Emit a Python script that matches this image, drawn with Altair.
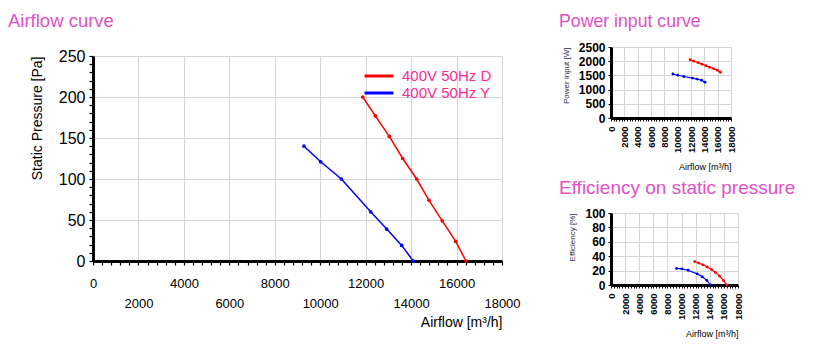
import altair as alt
import pandas as pd

FONT = "Liberation Sans"
TITLE_COLOR = "#e250c8"

series = ["400V 50Hz D", "400V 50Hz Y"]
colors = ["#ff0000", "#0000ff"]

# 400V 50Hz D
flow_D = [11870, 12425, 13040, 13630, 14245, 14790, 15370, 15960, 16415]
press_D = [200, 177, 152, 125, 100, 74, 49, 24, 0]
power_D = [2050, 2000, 1950, 1895, 1840, 1790, 1740, 1680, 1610]
eff_D = [32.5, 30.5, 28.0, 25.0, 21.5, 17.5, 12.5, 6.0, 0]

# 400V 50Hz Y
flow_Y = [9285, 10020, 10930, 12220, 12925, 13585, 14095]
press_Y = [140, 121, 100, 60, 39, 19, 0]
power_Y = [1550, 1505, 1460, 1405, 1370, 1330, 1260]
eff_Y = [23.0, 22.5, 20.5, 15.5, 11.5, 6.5, 0]

rows = []
for f, p, w, e in zip(flow_D, press_D, power_D, eff_D):
    rows.append({"series": series[0], "flow": f, "press": p, "power": w, "eff": e})
for f, p, w, e in zip(flow_Y, press_Y, power_Y, eff_Y):
    rows.append({"series": series[1], "flow": f, "press": p, "power": w, "eff": e})
df = pd.DataFrame(rows)

GRID = "#d4d4d4"


def x_axis_main():
    return alt.Axis(
        values=list(range(0, 18001, 400)),
        format="d",
        labelExpr="datum.value % 4000 == 0 ? datum.label : (datum.value % 2000 == 0 ? ['', datum.label] : '')",
        labelLineHeight=20,
        labelFlush=False,
        labelOverlap=False,
        labelFontSize=13,
        labelColor="black",
        labelPadding=12,
        tickSize=4,
        tickColor="black",
        tickWidth=1.2,
        domainColor="black",
        domainWidth=3,
        gridColor={"condition": {"test": "datum.value % 2000 == 0", "value": GRID}, "value": "transparent"},
        title="Airflow [m³/h]",
        titleFontSize=14,
        titleFontWeight="normal",
        titleColor="black",
        titleAnchor="end",
        titlePadding=5,
    )


main = alt.Chart(df).mark_line(
    strokeWidth=1.5,
    point=alt.OverlayMarkDef(filled=True, size=14),
).encode(
    x=alt.X("flow:Q", scale=alt.Scale(domain=[0, 18000], nice=False), axis=x_axis_main()),
    y=alt.Y(
        "press:Q",
        scale=alt.Scale(domain=[0, 250], nice=False),
        axis=alt.Axis(
            values=list(range(0, 251, 10)),
            labelExpr="datum.value % 50 == 0 ? datum.label : ''",
            labelFontSize=16,
            labelColor="black",
            labelPadding=4,
            labelOverlap=False,
            tickSize=4,
            tickColor="black",
            tickWidth=1.2,
            domainColor="black",
            domainWidth=3,
            gridColor={"condition": {"test": "datum.value % 50 == 0", "value": GRID}, "value": "transparent"},
            title="Static Pressure [Pa]",
            titleFontSize=14,
            titleFontWeight="normal",
            titleColor="black",
            titleAnchor="end",
            titlePadding=14,
        ),
    ),
    color=alt.Color(
        "series:N",
        scale=alt.Scale(domain=series, range=colors),
        legend=alt.Legend(
            title=None,
            orient="none",
            legendX=277,
            legendY=20,
            symbolType="M-1.93,0H1.93",
            symbolSize=225,
            symbolStrokeWidth=3,
            labelFontSize=15,
            labelColor="#ff2a93",
            rowPadding=0,
            labelOffset=14,
        ),
    ),
    detail="series:N",
).properties(width=409, height=205)

# header cell carrying the "Airflow curve" title above the main plot
main_header = alt.Chart(pd.DataFrame({"a": [0]})).mark_point(size=0, opacity=0).properties(
    width=409,
    height=1,
    title=alt.TitleParams(
        "Airflow curve",
        anchor="start",
        frame="group",
        dx=-85,
        fontSize=18.5,
        fontWeight="normal",
        color=TITLE_COLOR,
        offset=16.5,
    ),
)


def small_x_axis():
    return alt.Axis(
        values=list(range(0, 18001, 400)),
        format="d",
        labelExpr="datum.value % 2000 == 0 ? datum.label : ''",
        labelAngle=270,
        labelFontSize=9.5,
        labelFontWeight="bold",
        labelColor="black",
        labelFlush=False,
        labelOverlap=False,
        labelPadding=5,
        tickSize=3,
        tickColor="black",
        domainColor="black",
        domainWidth=3,
        gridColor={"condition": {"test": "datum.value % 2000 == 0", "value": GRID}, "value": "transparent"},
        title="Airflow  [m³/h]",
        titleFontSize=9,
        titleFontWeight="normal",
        titleColor="black",
        titleAnchor="end",
        titlePadding=10,
    )


def small_chart(field, domain, step, ytitle, title, width, height, dx, offset, tsize):
    return alt.Chart(df).mark_line(
        strokeWidth=1.2,
        point=alt.OverlayMarkDef(filled=True, size=8),
    ).encode(
        x=alt.X("flow:Q", scale=alt.Scale(domain=[0, 18000], nice=False), axis=small_x_axis()),
        y=alt.Y(
            f"{field}:Q",
            scale=alt.Scale(domain=domain, nice=False),
            axis=alt.Axis(
                values=list(range(domain[0], domain[1] + 1, step)),
                format="d",
                labelFontSize=12,
                labelFontWeight="bold",
                labelColor="black",
                labelPadding=3,
                tickSize=3,
                tickColor="black",
                domainColor="black",
                domainWidth=3,
                gridColor=GRID,
                title=ytitle,
                titleFontSize=8,
                titleFontWeight="normal",
                titleColor="#2a3050",
                titleAnchor="end",
                titlePadding=8,
            ),
        ),
        color=alt.Color("series:N", scale=alt.Scale(domain=series, range=colors), legend=None),
        detail="series:N",
    ).properties(
        width=width,
        height=height,
        title=alt.TitleParams(
            title,
            anchor="start",
            frame="group",
            dx=dx,
            fontSize=tsize,
            fontWeight="normal",
            color=TITLE_COLOR,
            offset=offset,
        ),
    )


power = small_chart("power", [0, 2500], 500, "Power input [W]", "Power input curve", 120, 71, -52, 10, 17.7)
eff = small_chart("eff", [0, 100], 20, "Efficiency  [%]", "Efficiency on static pressure", 127, 72, -52, 9, 19)

left = alt.vconcat(main_header, main, spacing=0)
right = alt.vconcat(power, eff, spacing=7)

chart = alt.hconcat(left, right, spacing=38).resolve_scale(color="independent").properties(
    padding={"left": 0, "top": 4, "right": 0, "bottom": 0},
    background="white",
).configure(font=FONT).configure_view(stroke=None)

chart.save("out.html", embed_options={"renderer": "svg", "actions": False})
